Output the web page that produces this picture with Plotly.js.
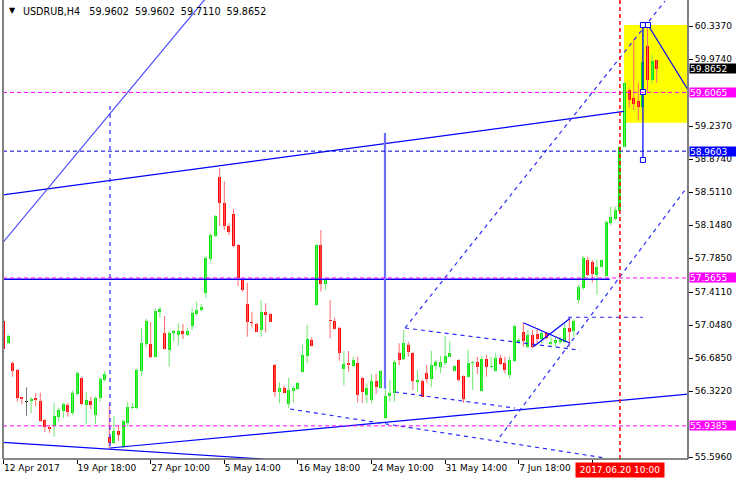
<!DOCTYPE html>
<html><head><meta charset="utf-8">
<script src="https://cdn.plot.ly/plotly-3.0.1.min.js"></script>
<style>html,body{margin:0;padding:0;background:#fff;}#chart{width:736px;height:480px;}</style>
</head><body><div id="chart"></div>
<script>
// ---- candle data (H4 bars, index 0..142) ----
const open=[57.092,56.853,56.633,56.553,56.253,56.198,56.209,56.248,56.215,56.003,
55.929,55.937,56.039,56.105,56.165,56.077,56.289,56.465,56.171,56.209,
56.061,56.248,56.443,55.813,55.753,55.885,55.709,55.967,56.132,56.132,
56.545,56.839,56.839,56.699,57.194,56.963,56.773,56.957,56.938,56.979,
56.941,57.040,57.169,57.213,57.403,57.774,58.027,58.673,58.387,58.140,
58.269,57.928,57.551,57.279,57.084,57.059,56.993,57.194,57.166,56.608,
56.314,56.358,56.179,56.325,56.341,56.534,56.707,56.883,57.268,57.928,
57.499,57.098,57.092,57.018,56.561,56.633,56.600,56.627,56.465,56.278,
56.223,56.432,56.358,56.022,56.270,56.303,56.737,56.671,56.828,56.743,
56.424,56.435,56.523,56.451,56.597,56.589,56.633,56.699,56.542,56.663,
56.487,56.479,56.627,56.644,56.325,56.671,56.583,56.545,56.682,56.633,
56.498,56.652,56.853,56.971,56.809,56.938,56.949,56.891,56.963,56.839,
56.853,56.864,56.864,57.018,56.985,57.323,57.452,57.763,57.744,57.598,
57.689,57.587,58.173,58.214,58.305,59.009,59.633,59.545,59.515,59.449,
60.117,59.743,59.9602];
const high=[57.114,56.949,56.647,56.564,56.259,56.363,56.256,56.297,56.303,56.014,
55.945,56.193,56.138,56.193,56.193,56.325,56.539,56.479,56.311,56.259,
56.262,56.473,56.542,56.187,56.047,55.945,56.009,56.204,56.193,56.572,
57.018,57.117,57.081,57.227,57.249,57.147,56.982,56.993,57.067,57.059,
57.012,57.232,57.304,57.279,57.810,58.057,58.258,58.775,58.629,58.167,
58.321,57.939,57.562,57.510,57.194,57.070,57.323,57.287,57.177,56.619,
56.418,56.380,56.468,56.380,56.424,56.828,57.048,56.913,57.939,58.093,
57.554,57.323,57.128,57.029,56.762,56.762,56.699,56.699,56.479,56.407,
56.509,56.509,56.553,56.352,56.443,56.663,56.847,56.993,56.864,56.751,
56.553,56.443,56.608,56.765,56.663,56.707,56.927,56.864,56.603,56.671,
56.493,56.773,56.652,56.699,56.707,56.718,56.699,56.743,56.718,56.699,
56.699,57.048,56.905,57.073,56.993,56.993,57.012,56.985,56.971,56.919,
56.919,56.919,57.073,57.122,57.111,57.488,57.807,57.799,57.763,57.771,
57.771,58.203,58.349,58.349,59.017,59.721,59.652,60.191,59.707,60.359,
60.348,60.018,59.9602];
const low=[56.762,56.839,56.479,56.204,56.176,56.050,56.077,56.157,55.984,55.868,
55.863,55.819,55.984,56.022,56.039,56.058,56.275,56.168,55.959,56.121,
55.959,56.204,56.429,55.684,55.739,55.769,55.692,55.929,56.121,56.121,
56.487,56.803,56.685,56.690,57.128,56.779,56.589,56.864,56.820,56.894,
56.930,56.993,57.150,57.202,57.348,57.744,58.016,58.140,58.093,58.038,
57.903,57.477,57.414,56.919,57.023,56.971,56.919,56.963,57.081,56.259,
56.187,56.297,56.132,56.193,56.333,56.523,56.627,56.809,57.257,57.414,
57.433,56.902,56.999,56.655,56.380,56.534,56.589,56.193,56.193,56.187,
56.193,56.289,56.352,56.011,56.204,56.204,56.608,56.663,56.699,56.333,
56.314,56.253,56.413,56.363,56.553,56.517,56.608,56.696,56.537,56.424,
56.193,56.473,56.333,56.509,56.314,56.479,56.572,56.534,56.608,56.517,
56.462,56.641,56.839,56.809,56.792,56.792,56.847,56.847,56.894,56.809,
56.809,56.839,56.853,56.809,56.919,57.287,57.433,57.587,57.513,57.378,
57.681,57.576,58.148,58.195,58.297,59.006,59.432,59.413,59.295,59.440,
59.603,59.707,59.7110];
const close=[56.784,56.930,56.545,56.242,56.234,56.198,56.237,56.226,55.995,55.923,
55.901,56.047,56.113,56.179,56.088,56.303,56.523,56.176,56.223,56.171,
56.248,56.454,56.509,55.753,55.885,55.841,55.995,56.143,56.149,56.553,
56.853,57.092,56.693,57.202,57.221,56.787,56.963,56.979,56.979,56.952,
56.985,57.183,57.213,57.249,57.788,58.038,58.247,58.387,58.140,58.074,
57.917,57.562,57.433,57.084,57.067,56.974,57.194,57.158,57.084,56.314,
56.358,56.303,56.333,56.352,56.413,56.718,56.891,56.817,57.928,57.499,
57.543,57.087,57.004,56.737,56.619,56.608,56.663,56.278,56.311,56.352,
56.432,56.369,56.542,56.267,56.303,56.644,56.663,56.847,56.754,56.435,
56.443,56.259,56.454,56.608,56.644,56.644,56.707,56.737,56.597,56.443,
56.231,56.627,56.644,56.583,56.671,56.589,56.597,56.682,56.619,56.553,
56.663,57.037,56.883,56.875,56.938,56.809,56.891,56.963,56.902,56.864,
56.883,56.891,57.012,56.974,57.095,57.463,57.782,57.598,57.609,57.689,
57.763,58.184,58.239,58.313,59.009,59.707,59.523,59.479,59.449,59.944,
59.743,59.952,59.8652];

// ---- axes ----
const xTickBars=[0,16,32,48,64,80,96,112,128];
const xTickText=['12 Apr 2017','19 Apr 18:00','27 Apr 10:00','5 May 14:00','16 May 18:00','24 May 10:00','31 May 14:00','7 Jun 18:00',''];
const yTickVals=[60.337,59.974,59.237,58.874,58.511,58.148,57.785,57.411,57.048,56.685,56.322,55.596];
const markerBar=134;           // 2017.06.20 10:00
const markerText='2017.06.20 10:00';
const symbolText='USDRUB,H4';
const headerOHLC=[59.9602,59.9602,59.7110,59.8652];

// ---- price levels with labels ----
const levelsMagenta=[59.6065,57.5655,55.9385];
const levelBlue=58.9603;
const lastPrice=59.8652;
const whiteDashLevel=59.963;
const supportSolid=[[-0.8,57.551,131.8,57.551]];

// ---- drawn objects [bar0, price0, bar1, price1] ----
const solidBlue=[
 [-0.76,58.474,134.9,59.397],
 [-0.76,55.758,56.4,55.574],
 [23.15,55.695,151.4,56.301],
 [140.1,60.348,150.0,59.537],
 [139.0,60.348,139.0,58.863],
 [113.0,57.073,123.2,56.847],
 [115.2,56.809,123.2,57.122]
];
const lightBlue=[[-0.76,57.917,47.1,60.832]];
const thickLight=[[82.93,59.160,82.93,56.350]];
const dashedBlue=[
 [23.15,59.457,23.15,55.695],
 [87.28,57.015,143.8,60.612],
 [107.9,55.816,151.4,58.753],
 [87.28,57.015,125.3,56.770],
 [85.11,56.311,111.2,56.135],
 [62.3,56.124,130.8,55.585],
 [122.7,57.133,139.0,57.133]
];
const handleBars=[139.0,140.1,139.0,139.0];
const handlePrices=[60.348,60.348,59.611,58.863];
const boxRect=[134.9,59.273,160,60.348];

const FONT='DejaVu Sans';
const idx=open.map((_,i)=>i);

function wickTrace(filter,color){
  const xs=[],ys=[];
  idx.forEach(i=>{ if(filter(i)){ xs.push(i,i,null); ys.push(high[i],low[i],null);} });
  return {type:'scatter',mode:'lines',x:xs,y:ys,line:{color:color,width:1},hoverinfo:'skip'};
}
const up=i=>close[i]>open[i], dn=i=>close[i]<open[i], eq=i=>close[i]===open[i];
const traces=[
  wickTrace(up,'#6fe86f'),
  wickTrace(dn,'#ff6a6a'),
  wickTrace(eq,'#7a7a7a'),
  {type:'bar',x:idx,base:idx.map(i=>Math.min(open[i],close[i])),
   y:idx.map(i=>Math.max(Math.abs(close[i]-open[i]),0.011)),width:0.66,
   marker:{color:idx.map(i=>up(i)?'#00e800':(dn(i)?'#ff0000':'#000000')),line:{width:0}},hoverinfo:'skip'}
];
function segTrace(list,color,width,dash){
  const xs=[],ys=[];
  list.forEach(s=>{xs.push(s[0],s[2],null);ys.push(s[1],s[3],null);});
  return {type:'scatter',mode:'lines',x:xs,y:ys,line:{color:color,width:width,dash:dash||'solid'},hoverinfo:'skip'};
}
traces.push(segTrace(supportSolid,'#0000ee',1.3));
traces.push(segTrace(solidBlue,'#0000ff',1.2));
traces.push(segTrace(lightBlue,'#4a4aff',1.2));
traces.push(segTrace(thickLight,'#6c6cff',2.2));
traces.push(segTrace(dashedBlue,'#2a2aff',1.2,'4px,4px'));
traces.push({type:'scatter',mode:'markers',x:handleBars,y:handlePrices,
  marker:{symbol:'square',size:5,color:'#ffffff',line:{color:'#0000ff',width:1}},hoverinfo:'skip'});

const shapes=[
  {type:'rect',layer:'below',xref:'x',yref:'y',x0:boxRect[0],x1:boxRect[2],y0:boxRect[1],y1:boxRect[3],fillcolor:'#ffff00',line:{width:0}},
  {type:'line',layer:'below',xref:'paper',x0:0,x1:1,yref:'y',y0:whiteDashLevel,y1:whiteDashLevel,line:{color:'#ffffff',width:1,dash:'4px,3px'}},
  {type:'line',layer:'below',xref:'paper',x0:0,x1:1,yref:'y',y0:lastPrice,y1:lastPrice,line:{color:'#ffffff',width:1}}
];
levelsMagenta.forEach(v=>shapes.push({type:'line',xref:'paper',x0:0,x1:1,yref:'y',y0:v,y1:v,line:{color:'#ff00ff',width:1,dash:'4px,3px'}}));
shapes.push({type:'line',xref:'paper',x0:0,x1:1,yref:'y',y0:levelBlue,y1:levelBlue,line:{color:'#0000cc',width:1,dash:'4px,3px'}});
shapes.push({type:'line',xref:'x',x0:markerBar,x1:markerBar,yref:'paper',y0:0,y1:1,line:{color:'#ff0000',width:1.5,dash:'4px,3px'}});
// frame
shapes.push({type:'line',xref:'paper',yref:'paper',x0:0,x1:0,y0:0,y1:1,line:{color:'#808080',width:2}});
shapes.push({type:'line',xref:'paper',yref:'paper',x0:1,x1:1,y0:0,y1:1,line:{color:'#808080',width:2}});
shapes.push({type:'line',xref:'paper',yref:'paper',x0:0,x1:1,y0:0,y1:0,line:{color:'#606060',width:1.5}});

const annotations=[];
function priceBox(v,bg){
  annotations.push({xref:'paper',x:1,xanchor:'left',xshift:1,yref:'y',y:v,yanchor:'middle',
    text:v.toFixed(4),showarrow:false,bgcolor:bg,borderpad:0,width:46,height:9,align:'left',
    font:{family:FONT,size:9,color:'#ffffff'}});
}
priceBox(lastPrice,'#000000');
levelsMagenta.forEach(v=>priceBox(v,'#ff00ff'));
priceBox(levelBlue,'#0000ff');
annotations.push({xref:'x',x:markerBar,xanchor:'center',yref:'paper',y:-0.0235,yanchor:'middle',
  text:markerText,showarrow:false,bgcolor:'#ff0000',borderpad:2,width:84,height:10,
  font:{family:FONT,size:9,color:'#ffffff'}});
annotations.push({xref:'paper',x:0.0058,xanchor:'left',yref:'paper',y:0.977,yanchor:'middle',
  text:'▼',showarrow:false,font:{family:FONT,size:8,color:'#000'}});
annotations.push({xref:'paper',x:0.0262,xanchor:'left',yref:'paper',y:0.976,yanchor:'middle',
  text:symbolText+'\u00a0\u00a0 '+headerOHLC.map(v=>v.toFixed(4)).join('\u00a0 '),showarrow:false,
  font:{family:FONT,size:9.6,color:'#000'}});

const layout={
  width:736,height:480,margin:{l:3,r:48,t:0,b:21},
  paper_bgcolor:'#ffffff',plot_bgcolor:'#ffffff',showlegend:false,bargap:0,
  xaxis:{range:[-0.109,148.8],tickmode:'array',tickvals:xTickBars,ticktext:xTickText,
    ticks:'outside',ticklen:4,tickcolor:'#000',tickwidth:1,ticklabelposition:'outside right',
    showgrid:false,zeroline:false,showline:false,fixedrange:true,
    tickfont:{family:FONT,size:9,color:'#000'}},
  yaxis:{range:[55.574,60.623],side:'right',tickmode:'array',tickvals:yTickVals,
    ticktext:yTickVals.map(v=>v.toFixed(4)),ticks:'outside',ticklen:4,tickcolor:'#000',
    showgrid:false,zeroline:false,showline:false,fixedrange:true,
    tickfont:{family:FONT,size:9,color:'#000'}},
  shapes:shapes,annotations:annotations
};
Plotly.newPlot('chart',traces,layout,{displayModeBar:false,staticPlot:true});
</script></body></html>
